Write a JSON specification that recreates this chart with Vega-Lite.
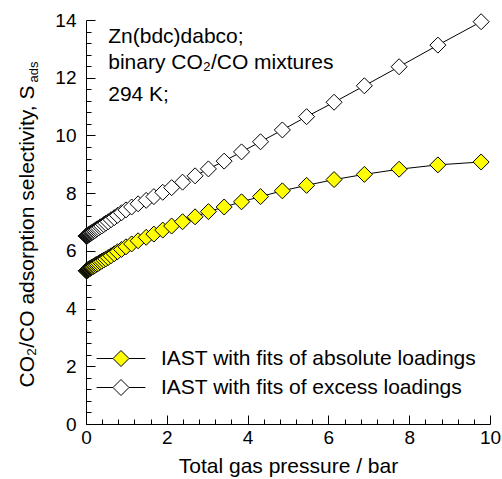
{
  "$schema": "https://vega.github.io/schema/vega-lite/v6.json",
  "width": 404,
  "height": 404,
  "autosize": "none",
  "padding": {"left": 86, "top": 20, "right": 12, "bottom": 55},
  "background": "white",
  "config": {
    "view": {"stroke": null},
    "font": "Liberation Sans",
    "axis": {"grid": false, "domainColor": "black", "domainWidth": 1, "tickColor": "black", "tickWidth": 1, "labelColor": "black", "titleColor": "black", "labelFont": "Liberation Sans", "titleFont": "Liberation Sans", "titleFontWeight": "normal"}
  },
  "datasets": {
    "sel": [
      {"p": 0.01, "s": 5.31, "fit": "absolute"},
      {"p": 0.012, "s": 5.31, "fit": "absolute"},
      {"p": 0.013, "s": 5.31, "fit": "absolute"},
      {"p": 0.015, "s": 5.31, "fit": "absolute"},
      {"p": 0.017, "s": 5.32, "fit": "absolute"},
      {"p": 0.019, "s": 5.32, "fit": "absolute"},
      {"p": 0.021, "s": 5.32, "fit": "absolute"},
      {"p": 0.024, "s": 5.32, "fit": "absolute"},
      {"p": 0.027, "s": 5.32, "fit": "absolute"},
      {"p": 0.03, "s": 5.33, "fit": "absolute"},
      {"p": 0.034, "s": 5.33, "fit": "absolute"},
      {"p": 0.038, "s": 5.33, "fit": "absolute"},
      {"p": 0.043, "s": 5.34, "fit": "absolute"},
      {"p": 0.048, "s": 5.34, "fit": "absolute"},
      {"p": 0.054, "s": 5.35, "fit": "absolute"},
      {"p": 0.06, "s": 5.35, "fit": "absolute"},
      {"p": 0.068, "s": 5.36, "fit": "absolute"},
      {"p": 0.076, "s": 5.37, "fit": "absolute"},
      {"p": 0.086, "s": 5.38, "fit": "absolute"},
      {"p": 0.096, "s": 5.38, "fit": "absolute"},
      {"p": 0.108, "s": 5.40, "fit": "absolute"},
      {"p": 0.122, "s": 5.41, "fit": "absolute"},
      {"p": 0.137, "s": 5.42, "fit": "absolute"},
      {"p": 0.154, "s": 5.44, "fit": "absolute"},
      {"p": 0.173, "s": 5.45, "fit": "absolute"},
      {"p": 0.194, "s": 5.47, "fit": "absolute"},
      {"p": 0.218, "s": 5.49, "fit": "absolute"},
      {"p": 0.245, "s": 5.52, "fit": "absolute"},
      {"p": 0.275, "s": 5.54, "fit": "absolute"},
      {"p": 0.31, "s": 5.57, "fit": "absolute"},
      {"p": 0.35, "s": 5.61, "fit": "absolute"},
      {"p": 0.39, "s": 5.64, "fit": "absolute"},
      {"p": 0.44, "s": 5.68, "fit": "absolute"},
      {"p": 0.49, "s": 5.72, "fit": "absolute"},
      {"p": 0.55, "s": 5.77, "fit": "absolute"},
      {"p": 0.62, "s": 5.83, "fit": "absolute"},
      {"p": 0.70, "s": 5.90, "fit": "absolute"},
      {"p": 0.78, "s": 5.97, "fit": "absolute"},
      {"p": 0.88, "s": 6.05, "fit": "absolute"},
      {"p": 0.99, "s": 6.14, "fit": "absolute"},
      {"p": 1.13, "s": 6.24, "fit": "absolute"},
      {"p": 1.29, "s": 6.35, "fit": "absolute"},
      {"p": 1.49, "s": 6.47, "fit": "absolute"},
      {"p": 1.68, "s": 6.58, "fit": "absolute"},
      {"p": 1.90, "s": 6.72, "fit": "absolute"},
      {"p": 2.12, "s": 6.86, "fit": "absolute"},
      {"p": 2.39, "s": 7.01, "fit": "absolute"},
      {"p": 2.70, "s": 7.18, "fit": "absolute"},
      {"p": 3.03, "s": 7.36, "fit": "absolute"},
      {"p": 3.42, "s": 7.52, "fit": "absolute"},
      {"p": 3.85, "s": 7.70, "fit": "absolute"},
      {"p": 4.32, "s": 7.88, "fit": "absolute"},
      {"p": 4.86, "s": 8.08, "fit": "absolute"},
      {"p": 5.46, "s": 8.27, "fit": "absolute"},
      {"p": 6.14, "s": 8.47, "fit": "absolute"},
      {"p": 6.89, "s": 8.65, "fit": "absolute"},
      {"p": 7.75, "s": 8.83, "fit": "absolute"},
      {"p": 8.71, "s": 8.98, "fit": "absolute"},
      {"p": 9.78, "s": 9.08, "fit": "absolute"},
      {"p": 0.01, "s": 6.51, "fit": "excess"},
      {"p": 0.012, "s": 6.51, "fit": "excess"},
      {"p": 0.013, "s": 6.51, "fit": "excess"},
      {"p": 0.015, "s": 6.51, "fit": "excess"},
      {"p": 0.017, "s": 6.52, "fit": "excess"},
      {"p": 0.019, "s": 6.52, "fit": "excess"},
      {"p": 0.021, "s": 6.52, "fit": "excess"},
      {"p": 0.024, "s": 6.52, "fit": "excess"},
      {"p": 0.027, "s": 6.53, "fit": "excess"},
      {"p": 0.03, "s": 6.53, "fit": "excess"},
      {"p": 0.034, "s": 6.53, "fit": "excess"},
      {"p": 0.038, "s": 6.54, "fit": "excess"},
      {"p": 0.043, "s": 6.54, "fit": "excess"},
      {"p": 0.048, "s": 6.54, "fit": "excess"},
      {"p": 0.054, "s": 6.55, "fit": "excess"},
      {"p": 0.06, "s": 6.56, "fit": "excess"},
      {"p": 0.068, "s": 6.56, "fit": "excess"},
      {"p": 0.076, "s": 6.57, "fit": "excess"},
      {"p": 0.086, "s": 6.58, "fit": "excess"},
      {"p": 0.096, "s": 6.59, "fit": "excess"},
      {"p": 0.108, "s": 6.60, "fit": "excess"},
      {"p": 0.122, "s": 6.61, "fit": "excess"},
      {"p": 0.137, "s": 6.63, "fit": "excess"},
      {"p": 0.154, "s": 6.64, "fit": "excess"},
      {"p": 0.173, "s": 6.66, "fit": "excess"},
      {"p": 0.194, "s": 6.68, "fit": "excess"},
      {"p": 0.218, "s": 6.70, "fit": "excess"},
      {"p": 0.245, "s": 6.73, "fit": "excess"},
      {"p": 0.275, "s": 6.76, "fit": "excess"},
      {"p": 0.31, "s": 6.79, "fit": "excess"},
      {"p": 0.35, "s": 6.83, "fit": "excess"},
      {"p": 0.39, "s": 6.86, "fit": "excess"},
      {"p": 0.44, "s": 6.91, "fit": "excess"},
      {"p": 0.49, "s": 6.96, "fit": "excess"},
      {"p": 0.55, "s": 7.01, "fit": "excess"},
      {"p": 0.62, "s": 7.08, "fit": "excess"},
      {"p": 0.70, "s": 7.15, "fit": "excess"},
      {"p": 0.78, "s": 7.23, "fit": "excess"},
      {"p": 0.88, "s": 7.32, "fit": "excess"},
      {"p": 0.99, "s": 7.42, "fit": "excess"},
      {"p": 1.13, "s": 7.52, "fit": "excess"},
      {"p": 1.29, "s": 7.63, "fit": "excess"},
      {"p": 1.49, "s": 7.75, "fit": "excess"},
      {"p": 1.68, "s": 7.88, "fit": "excess"},
      {"p": 1.90, "s": 8.03, "fit": "excess"},
      {"p": 2.12, "s": 8.19, "fit": "excess"},
      {"p": 2.39, "s": 8.38, "fit": "excess"},
      {"p": 2.70, "s": 8.60, "fit": "excess"},
      {"p": 3.03, "s": 8.84, "fit": "excess"},
      {"p": 3.42, "s": 9.11, "fit": "excess"},
      {"p": 3.85, "s": 9.43, "fit": "excess"},
      {"p": 4.32, "s": 9.78, "fit": "excess"},
      {"p": 4.86, "s": 10.19, "fit": "excess"},
      {"p": 5.46, "s": 10.65, "fit": "excess"},
      {"p": 6.14, "s": 11.15, "fit": "excess"},
      {"p": 6.89, "s": 11.72, "fit": "excess"},
      {"p": 7.75, "s": 12.38, "fit": "excess"},
      {"p": 8.71, "s": 13.13, "fit": "excess"},
      {"p": 9.78, "s": 13.94, "fit": "excess"}
    ]
  },
  "layer": [
    {
      "data": {"name": "sel"},
      "mark": {"type": "line", "color": "black", "strokeWidth": 1},
      "encoding": {
        "x": {"field": "p", "type": "quantitative", "scale": {"domain": [0, 10], "nice": false, "zero": false},
          "axis": {"title": "Total gas pressure / bar", "titleFontSize": 21, "titleY": 48, "titleBaseline": "alphabetic",
            "values": [0,0.4,0.8,1.2,1.6,2,2.4,2.8,3.2,3.6,4,4.4,4.8,5.2,5.6,6,6.4,6.8,7.2,7.6,8,8.4,8.8,9.2,9.6,10],
            "tickCount": 100,
            "labelExpr": "abs(datum.value/2 - round(datum.value/2)) < 0.001 ? format(datum.value, 'd') : ''",
            "labelFontSize": 19, "labelFlush": false, "labelOverlap": false, "labelPadding": 13,
            "tickSize": {"condition": {"test": "abs(datum.value/2 - round(datum.value/2)) < 0.001", "value": -9}, "value": -5}}},
        "y": {"field": "s", "type": "quantitative", "scale": {"domain": [0, 14], "nice": false},
          "axis": {"title": "CO₂/CO adsorption selectivity, S", "titleFontSize": 21, "titleX": -53, "titleY": 216, "titleAngle": 270, "titleAlign": "center", "titleBaseline": "alphabetic",
            "values": [0,0.4,0.8,1.2,1.6,2,2.4,2.8,3.2,3.6,4,4.4,4.8,5.2,5.6,6,6.4,6.8,7.2,7.6,8,8.4,8.8,9.2,9.6,10,10.4,10.8,11.2,11.6,12,12.4,12.8,13.2,13.6,14],
            "tickCount": 100,
            "labelExpr": "abs(datum.value/2 - round(datum.value/2)) < 0.001 ? format(datum.value, 'd') : ''",
            "labelFontSize": 19, "labelFlush": false, "labelOverlap": false, "labelPadding": 19,
            "tickSize": {"condition": {"test": "abs(datum.value/2 - round(datum.value/2)) < 0.001", "value": -9}, "value": -5}}},
        "detail": {"field": "fit", "type": "nominal"},
        "order": {"field": "p", "type": "quantitative"}
      }
    },
    {
      "data": {"name": "sel"},
      "mark": {"type": "point", "shape": "diamond", "filled": true, "size": 256, "stroke": "black", "strokeWidth": 1, "opacity": 1},
      "encoding": {
        "x": {"field": "p", "type": "quantitative"},
        "y": {"field": "s", "type": "quantitative"},
        "fill": {"field": "fit", "type": "nominal",
          "scale": {"domain": ["absolute", "excess"], "range": ["#ffff00", "#ffffff"]},
          "legend": {"orient": "none", "legendX": 24.5, "legendY": 328, "title": null, "padding": 0,
            "labelExpr": "'IAST with fits of ' + datum.label + ' loadings'",
            "labelFontSize": 21, "labelFont": "Liberation Sans", "labelColor": "black", "labelLimit": 400,
            "symbolType": "M-3.05,0L-1,0M1,0L3.05,0M-1,0L0,-1L1,0L0,1Z", "symbolSize": 256,
            "symbolStrokeColor": "black", "symbolStrokeWidth": 1, "symbolOpacity": 1,
            "labelOffset": 29.5, "rowPadding": 7}
        }
      }
    },
    {
      "data": {"values": [{}]},
      "mark": {"type": "text", "text": "Zn(bdc)dabco;", "align": "left", "baseline": "alphabetic", "fontSize": 21, "font": "Liberation Sans", "color": "black"},
      "encoding": {"x": {"datum": 0.55, "type": "quantitative"}, "y": {"datum": 13.2, "type": "quantitative"}}
    },
    {
      "data": {"values": [{}]},
      "mark": {"type": "text", "text": "binary CO₂/CO mixtures", "align": "left", "baseline": "alphabetic", "fontSize": 21, "font": "Liberation Sans", "color": "black"},
      "encoding": {"x": {"datum": 0.55, "type": "quantitative"}, "y": {"datum": 12.3, "type": "quantitative"}}
    },
    {
      "data": {"values": [{}]},
      "mark": {"type": "text", "text": "294 K;", "align": "left", "baseline": "alphabetic", "fontSize": 21, "font": "Liberation Sans", "color": "black"},
      "encoding": {"x": {"datum": 0.55, "type": "quantitative"}, "y": {"datum": 11.2, "type": "quantitative"}}
    },
    {
      "data": {"values": [{}]},
      "mark": {"type": "text", "text": "ads", "angle": 270, "align": "center", "baseline": "alphabetic", "fontSize": 13, "font": "Liberation Sans", "color": "black"},
      "encoding": {"x": {"datum": -1.2, "type": "quantitative"}, "y": {"datum": 12.2, "type": "quantitative"}}
    }
  ]
}
